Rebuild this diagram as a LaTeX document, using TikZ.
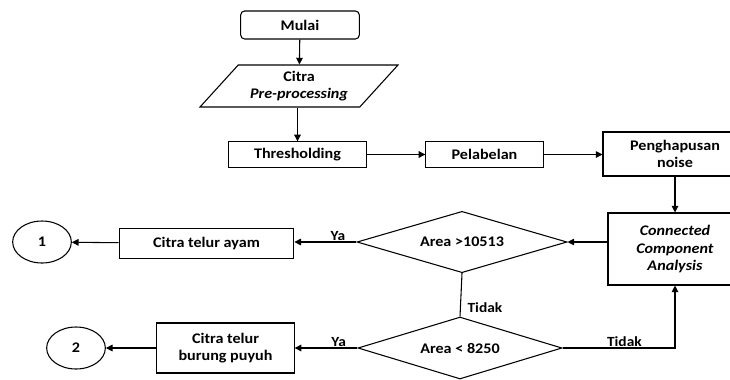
\documentclass[tikz,border=0pt]{standalone}
\usepackage{fontspec}
\setmainfont{Carlito}[FakeStretch=1.1]
\usetikzlibrary{arrows.meta, positioning, shapes.geometric}

\begin{document}
\begin{tikzpicture}[x=0.75pt, y=-0.75pt,
every node/.style = {font=\bfseries\fontsize{11}{13}\selectfont,
                     align=center, inner sep=1pt},
proc/.style  = {draw, line width=0.8pt},
start/.style = {proc, rounded corners=3pt},
data/.style  = {proc, trapezium, trapezium left angle=46,
                trapezium right angle=134, trapezium stretches=true},
decide/.style = {proc, diamond, aspect=3.4, inner sep=0pt},
conn/.style  = {proc, ellipse, minimum width=44pt, minimum height=31.5pt},
lbl/.style   = {font=\bfseries\fontsize{10.5}{12}\selectfont},
line/.style  = {line width=0.8pt},
arr/.style   = {line, -{Triangle[length=5pt,width=5pt]}},
                    ]
\useasboundingbox (0,0) rectangle (730,379);
%-------
\node (mulai) [start, minimum width=89pt, minimum height=21pt]
              at (300,25)     {Mulai};
\node (citra) [data, minimum width=148.5pt, minimum height=31.5pt]
              at (299,86)     {Citra\\\textit{Pre-processing}};
%
\node (thresh) [proc, minimum width=103pt, minimum height=19pt]
               at (297.5,154.5)   {Thresholding};
\node (label)  [proc, minimum width=88pt, minimum height=19pt]
               at (484.5,154.5)   {Pelabelan};
\node (noise)  [proc, minimum width=108pt, minimum height=33pt]
               at (675,154)       {Penghapusan\\noise};
\node (cca)    [proc, minimum width=100.5pt, minimum height=54pt]
               at (675,249)       {\textit{Connected}\\\textit{Component}\\\textit{Analysis}};
%
\node (areaA) [decide, minimum width=157.5pt, minimum height=46pt]
              at (462,242)    {Area >10513};
\node (areaB) [decide, minimum width=153pt, minimum height=46.5pt]
              at (460,348)    {Area < 8250};
%
\node (ayam)  [proc, minimum width=131pt, minimum height=22pt]
              at (206.5,243.5) {Citra telur ayam};
\node (puyuh) [proc, minimum width=103pt, minimum height=37.5pt]
              at (225.5,348)  {Citra telur\\burung puyuh};
\node (out1)  [conn]  at (42,242)  {1};
\node (out2)  [conn]  at (76,348)  {2};
% edges
\draw[arr]  (mulai)  -- (citra);
\draw[arr]  (citra.south -| thresh.north) -- (thresh.north);
\draw[arr]  (thresh) -- (label);
\draw[arr]  (label)  -- (noise.west |- label);
\draw[arr]  (noise)  -- (cca);
\draw[arr]  (cca.west |- areaA) -- (areaA.east);
%---
\draw[arr]  (areaA.west) -- node[lbl, above, pos=0.3] {Ya} (areaA.west -| ayam.east);
\draw[arr]  (ayam)   -- (out1);
\draw[line] (areaA.south) -- node[lbl, right=4pt, pos=0.8] {Tidak} (areaB.north);
%---
\draw[arr]  (areaB.west) -- node[lbl, above, pos=0.3] {Ya} (puyuh.east);
\draw[arr]  (puyuh)  -- (out2);
\draw[arr]  (areaB.east) -- node[lbl, above, pos=0.55] {Tidak} (areaB.east -| cca.south) -- (cca.south);
\end{tikzpicture}
\end{document}
